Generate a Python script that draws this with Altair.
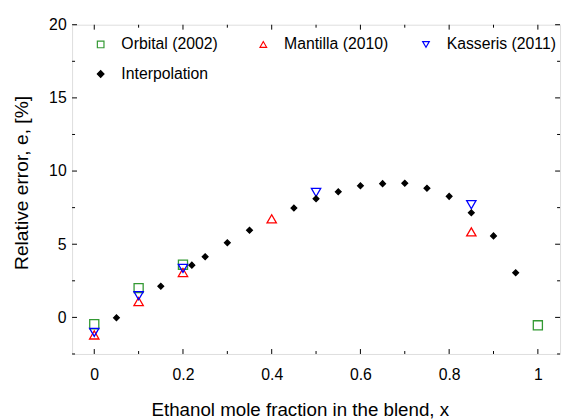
import altair as alt
import pandas as pd

series_names = ["Orbital (2002)", "Mantilla (2010)", "Kasseris (2011)", "Interpolation"]
series_colors = ["#339933", "#ff0000", "#0000ff", "#000000"]
series_fills = ["transparent", "transparent", "transparent", "#000000"]
series_shapes = ["square", "triangle-up", "triangle-down", "diamond"]

orbital_x = [0.0, 0.1, 0.2, 1.0]
orbital_y = [-0.47, 2.0, 3.6, -0.54]

mantilla_x = [0.0, 0.1, 0.2, 0.4, 0.85]
mantilla_y = [-1.2, 1.08, 3.07, 6.74, 5.84]

kasseris_x = [0.0, 0.1, 0.2, 0.5, 0.85]
kasseris_y = [-1.02, 1.48, 3.35, 8.54, 7.7]

interp_x = [0.05, 0.15, 0.22, 0.25, 0.3, 0.35, 0.45, 0.5, 0.55, 0.6, 0.65,
            0.7, 0.75, 0.8, 0.85, 0.9, 0.95]
interp_y = [-0.03, 2.13, 3.57, 4.15, 5.1, 5.95, 7.47, 8.11, 8.58, 8.99, 9.14,
            9.17, 8.83, 8.27, 7.15, 5.57, 3.05]

x_major = [0, 0.2, 0.4, 0.6, 0.8, 1.0]
x_minor = [0.1, 0.3, 0.5, 0.7, 0.9]
y_major = [0, 5, 10, 15, 20]
y_minor = [-2.5, 2.5, 7.5, 12.5, 17.5]

rows = []
for name, xs, ys in [(series_names[0], orbital_x, orbital_y),
                     (series_names[1], mantilla_x, mantilla_y),
                     (series_names[2], kasseris_x, kasseris_y),
                     (series_names[3], interp_x, interp_y)]:
    for xv, yv in zip(xs, ys):
        rows.append({"series": name, "x": xv, "y": yv})
df = pd.DataFrame(rows)

W, H = 495, 334
FONT = "Liberation Sans"

xscale = alt.Scale(domain=[-0.05, 1.05], nice=False, zero=False)
yscale = alt.Scale(domain=[-2.5, 20], nice=False, zero=False)

xaxis = alt.Axis(values=x_major, title="Ethanol mole fraction in the blend, x",
                 labelExpr="datum.value == 0 ? '0' : datum.value == 1 ? '1' : format(datum.value, '.1f')",
                 grid=False, domain=False, ticks=False, labelPadding=13,
                 labelFontSize=16, titleFontSize=19, titlePadding=18,
                 labelFont=FONT, titleFont=FONT, labelColor="black",
                 titleColor="black", titleFontWeight="normal", titleX=231)
yaxis = alt.Axis(values=y_major, title="Relative error, e, [%]",
                 grid=False, domain=False, ticks=False, labelPadding=6,
                 labelFontSize=16, titleFontSize=19.5, titlePadding=17,
                 labelFont=FONT, titleFont=FONT, labelColor="black",
                 titleColor="black", titleFontWeight="normal", titleY=160)

legend = alt.Legend(
    title=None, orient="none", legendX=21, legendY=12, columns=3,
    direction="horizontal", values=series_names,
    symbolSize=45, symbolStrokeWidth=1.2, labelFontSize=16, labelFont=FONT,
    labelColor="black", labelOffset=13, columnPadding=25, rowPadding=14,
    gridAlign="all", labelLimit=300,
)

stroke_enc = alt.Stroke("series:N", sort=series_names,
                        scale=alt.Scale(domain=series_names, range=series_colors), legend=legend)
fill_enc = alt.Fill("series:N", sort=series_names,
                    scale=alt.Scale(domain=series_names, range=series_fills), legend=legend)
shape_enc = alt.Shape("series:N", sort=series_names,
                      scale=alt.Scale(domain=series_names, range=series_shapes), legend=legend)

def series_layer(name, size):
    return alt.Chart(df).transform_filter(alt.datum.series == name).mark_point(
        size=size, strokeWidth=1.3, opacity=1
    ).encode(
        x=alt.X("x:Q", scale=xscale, axis=xaxis),
        y=alt.Y("y:Q", scale=yscale, axis=yaxis),
        stroke=stroke_enc,
        fill=fill_enc,
        shape=shape_enc,
    )

xmaj_df = pd.DataFrame({"v": x_major})
xmin_df = pd.DataFrame({"v": x_minor})
ymaj_df = pd.DataFrame({"v": y_major})
ymin_df = pd.DataFrame({"v": y_minor})

def xticks(d, length):
    base = alt.Chart(d).mark_rule(color="black", strokeWidth=1)
    bottom = base.encode(x=alt.X("v:Q", scale=xscale, axis=xaxis), y=alt.value(H), y2=alt.value(H - length))
    top = base.encode(x=alt.X("v:Q", scale=xscale, axis=xaxis), y=alt.value(0), y2=alt.value(length))
    return bottom + top

def yticks(d, length):
    base = alt.Chart(d).mark_rule(color="black", strokeWidth=1)
    left = base.encode(y=alt.Y("v:Q", scale=yscale, axis=yaxis), x=alt.value(0), x2=alt.value(length))
    right = base.encode(y=alt.Y("v:Q", scale=yscale, axis=yaxis), x=alt.value(W), x2=alt.value(W - length))
    return left + right

chart = alt.layer(
    xticks(xmaj_df, 5), xticks(xmin_df, 3), yticks(ymaj_df, 5), yticks(ymin_df, 3),
    series_layer(series_names[0], 85),
    series_layer(series_names[1], 90),
    series_layer(series_names[2], 90),
    series_layer(series_names[3], 34),
).properties(
    width=W, height=H,
    autosize=alt.AutoSizeParams(type="none"),
    padding={"left": 65, "top": 14, "right": 3, "bottom": 63},
).configure_view(
    stroke="black", strokeWidth=1.6
).configure(background="white")

chart.save("out.html", embed_options={"renderer": "svg", "actions": False})
